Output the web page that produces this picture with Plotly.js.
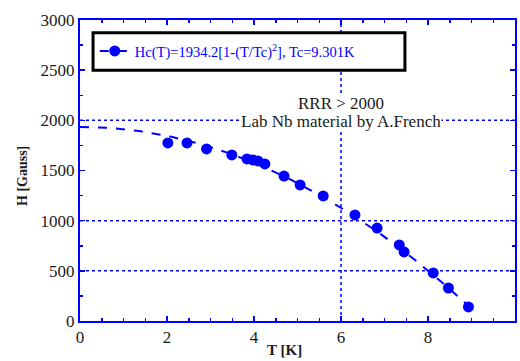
<!DOCTYPE html>
<html>
<head>
<meta charset="utf-8">
<script src="https://cdn.plot.ly/plotly-3.0.1.min.js"></script>
<style>html,body{margin:0;padding:0;background:#fff;}#chart{width:520px;height:361px;}</style>
</head>
<body>
<div id="chart"></div>
<script>
// Measured data: temperature T [K] and critical field H [Gauss]
const temperatureK = [2.02, 2.46, 2.91, 3.49, 3.84, 3.97, 4.09, 4.25, 4.69, 5.06, 5.59, 6.32, 6.83, 7.34, 7.45, 8.12, 8.47, 8.93];
const fieldGauss   = [1775, 1775, 1715, 1655, 1615, 1605, 1595, 1565, 1445, 1356, 1246, 1057, 926, 758, 688, 479, 329, 140];

// Fit parameters stated in the legend
const fitH0 = 1934.2;
const fitTc = 9.301;
const fitTmax = 9.0;

const xTicks = [0, 2, 4, 6, 8, 10];
const yTicks = [0, 500, 1000, 1500, 2000, 2500, 3000];
const hGridValues = [500, 1000, 2000];
const vGridValues = [6];

const fitT = [];
const fitH = [];
for (let i = 0; i <= 90; i++) {
  const t = fitTmax * i / 90;
  fitT.push(t);
  fitH.push(fitH0 * (1 - Math.pow(t / fitTc, 2)));
}

const blue = '#0000ff';
const serif = 'Liberation Serif';
const ink = '#1a1a1a';

const traces = [
  {x: fitT, y: fitH, mode: 'lines', line: {color: blue, width: 2, dash: 'dash'}, showlegend: false, hoverinfo: 'skip'},
  {x: temperatureK, y: fieldGauss, mode: 'markers', marker: {color: blue, size: 11, symbol: 'circle'}, showlegend: false},
  {x: [null], y: [null], mode: 'lines+markers', line: {color: blue, width: 2, dash: 'dash'}, marker: {color: blue, size: 11},
   name: 'Hc(T)=1934.2[1-(T/Tc)<sup>2</sup>], Tc=9.301K', showlegend: true}
];

const shapes = [];
hGridValues.forEach(v => shapes.push({type: 'line', xref: 'paper', x0: 0, x1: 1, yref: 'y', y0: v, y1: v,
  line: {color: blue, width: 1.5, dash: 'dot'}, layer: 'below'}));
vGridValues.forEach(v => shapes.push({type: 'line', yref: 'paper', y0: 0, y1: 1, xref: 'x', x0: v, x1: v,
  line: {color: blue, width: 1.5, dash: 'dot'}, layer: 'below'}));
// legend frame (opaque, hides the grid line behind it)
shapes.push({type: 'rect', xref: 'paper', yref: 'paper', x0: 0.030, x1: 0.747, y0: 0.833, y1: 0.958,
  line: {color: '#000', width: 3}, fillcolor: '#fff', layer: 'above'});

const layout = {
  width: 520, height: 361,
  margin: {l: 80, r: 5, t: 20, b: 40},
  paper_bgcolor: '#fff', plot_bgcolor: '#fff',
  font: {family: serif, color: ink},
  showlegend: true,
  legend: {x: 0.034, y: 0.95, xanchor: 'left', yanchor: 'top', bgcolor: 'rgba(0,0,0,0)', borderwidth: 0,
    font: {family: serif, size: 14.5, color: blue}},
  xaxis: {range: [0, 10], tickvals: xTicks, ticks: 'inside', ticklen: 5, tickwidth: 1.5, tickcolor: blue,
    showline: true, linecolor: blue, linewidth: 2, mirror: 'ticks', showgrid: false, zeroline: false,
    minor: {dtick: 0.5, ticks: 'inside', ticklen: 3, tickcolor: blue, showgrid: false},
    tickfont: {family: serif, size: 17, color: ink}},
  yaxis: {range: [0, 3000], tickvals: yTicks, ticks: 'inside', ticklen: 5, tickwidth: 1.5, tickcolor: blue,
    showline: true, linecolor: blue, linewidth: 2, mirror: 'ticks', showgrid: false, zeroline: false,
    minor: {dtick: 250, ticks: 'inside', ticklen: 3, tickcolor: blue, showgrid: false},
    tickfont: {family: serif, size: 17, color: ink}},
  shapes: shapes,
  annotations: [
    {x: 6, y: 2170, xref: 'x', yref: 'y', text: 'RRR &gt; 2000', showarrow: false,
      font: {family: serif, size: 17, color: ink}, bgcolor: '#fff', borderpad: 0},
    {x: 6, y: 1990, xref: 'x', yref: 'y', text: 'Lab Nb material by A.French', showarrow: false,
      font: {family: serif, size: 17, color: ink}, bgcolor: '#fff', borderpad: 0},
    {x: (284 - 80) / 435, y: (321 - 350) / 301, xref: 'paper', yref: 'paper', xanchor: 'center', yanchor: 'middle',
      text: '<b>T [K]</b>', showarrow: false, font: {family: serif, size: 15, color: ink}},
    {x: (22 - 80) / 435, y: (321 - 176) / 301, xref: 'paper', yref: 'paper', xanchor: 'center', yanchor: 'middle',
      text: '<b>H [Gauss]</b>', textangle: -90, showarrow: false, font: {family: serif, size: 14, color: ink}}
  ]
};

Plotly.newPlot('chart', traces, layout, {displayModeBar: false, staticPlot: true});
</script>
</body>
</html>
